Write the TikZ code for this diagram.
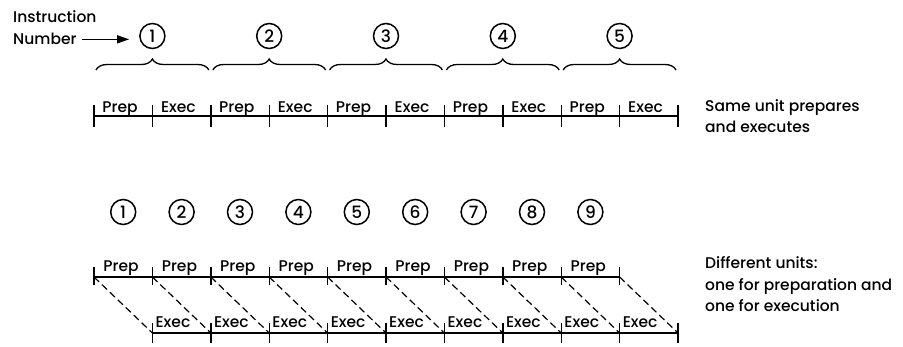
\documentclass[tikz,border=0pt]{standalone}
\usepackage{fontspec}
\setmainfont{Poppins}[UprightFont={* Medium}]
\usetikzlibrary{decorations.pathreplacing,arrows.meta}
\tikzset{
  lab/.style={inner sep=0pt, font=\fontsize{15.5}{17}\selectfont},
  num/.style={circle, draw, line width=1.5pt, minimum size=25pt, inner sep=0pt, font=\fontsize{17}{19}\selectfont},
  mainline/.style={line width=1.7pt},
  tickline/.style={line width=1.4pt},
  dashline/.style={line width=1.2pt, dash pattern=on 7pt off 4pt},
  bracestyle/.style={line width=1.3pt, decorate, decoration={brace, amplitude=11pt, aspect=0.5}},
}
\begin{document}
\begin{tikzpicture}[x=1pt,y=-1pt]
\useasboundingbox (0,0) rectangle (903,347);
% header
\node[lab, anchor=base west] (instr) at (13,23) {Instruction};
\node[lab, anchor=base west] (numb) at (13,45) {Number};
% top timeline
\foreach \i in {0,...,10}{
  \coordinate (t\i) at ({94+58.4*\i},116);
  \coordinate (ta\i) at ({94+58.4*\i},105);
  \coordinate (tb\i) at ({94+58.4*\i},127);
  \draw[tickline] (ta\i) -- (tb\i);
}
\draw[mainline] (t0) -- (t10);
\foreach \k in {0,...,4}{
  \pgfmathtruncatemacro{\n}{\k+1}
  \node[num] (c\k) at ({94+58.4*(2*\k+1)},36) {\n};
  \coordinate (bl\k) at ({94+58.4*2*\k+2},70);
  \coordinate (br\k) at ({94+58.4*(2*\k+2)-2},70);
  \draw[bracestyle] (bl\k) -- (br\k);
  \node[lab, anchor=base] (tp\k) at ({94+58.4*2*\k+26},113) {Prep};
  \node[lab, anchor=base] (te\k) at ({94+58.4*(2*\k+1)+26},113) {Exec};
}
\draw[line width=1.3pt, -{Triangle[length=12pt,width=8pt]}, shorten <=5pt, shorten >=10pt] (numb.east) -- (numb.east -| c0.west);
\node[lab, anchor=base west] (same1) at (705,112) {Same unit prepares};
\node[lab, anchor=base west] (same2) at (705,133) {and executes};
% bottom timeline
\foreach \i in {0,...,9}{
  \coordinate (p\i) at ({94+58.4*\i},277);
  \coordinate (pa\i) at ({94+58.4*\i},267);
  \coordinate (pb\i) at ({94+58.4*\i},285);
  \draw[tickline] (pa\i) -- (pb\i);
}
\foreach \i in {1,...,10}{
  \coordinate (e\i) at ({94+58.4*\i},333);
  \coordinate (ea\i) at ({94+58.4*\i},323);
  \coordinate (eb\i) at ({94+58.4*\i},343);
  \draw[tickline] (ea\i) -- (eb\i);
}
\draw[mainline] (p0) -- (p9);
\draw[mainline] (e1) -- (e10);
\foreach \i in {0,...,9}{
  \pgfmathtruncatemacro{\j}{\i+1}
  \draw[dashline] (p\i) -- (e\j);
}
\foreach \i in {0,...,8}{
  \pgfmathtruncatemacro{\n}{\i+1}
  \node[num] (d\i) at ({94+58.4*\i+29.2},212) {\n};
  \node[lab, anchor=base] (bp\i) at ({94+58.4*\i+27},272) {Prep};
}
\foreach \i in {1,...,9}{
  \node[lab, anchor=base west] (be\i) at ({94+58.4*\i+3},328) {Exec};
}
\node[lab, anchor=base west] (diff1) at (705,269) {Different units:};
\node[lab, anchor=base west] (diff2) at (705,291) {one for preparation and};
\node[lab, anchor=base west] (diff3) at (705,312) {one for execution};
\end{tikzpicture}
\end{document}
